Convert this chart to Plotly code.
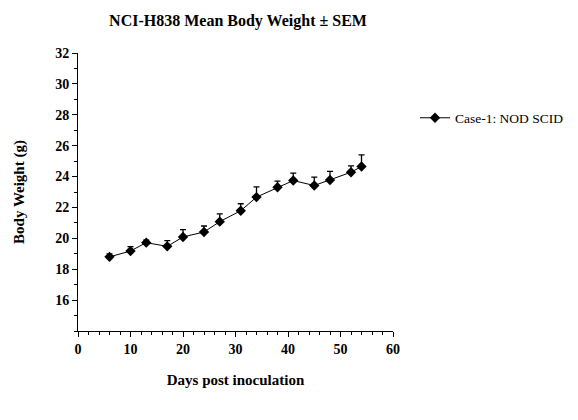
import plotly.graph_objects as go

days = [6, 10, 13, 17, 20, 24, 27, 31, 34, 38, 41, 45, 48, 52, 54]
weights = [18.80, 19.18, 19.72, 19.48, 20.09, 20.41, 21.08, 21.79, 22.67, 23.31, 23.74, 23.42, 23.78, 24.28, 24.65]
sem = [0.20, 0.28, 0.17, 0.37, 0.47, 0.39, 0.51, 0.45, 0.66, 0.39, 0.48, 0.54, 0.56, 0.41, 0.75]
series_name = "Case-1: NOD SCID"
y_ticks = [16, 18, 20, 22, 24, 26, 28, 30, 32]
x_ticks = [0, 10, 20, 30, 40, 50, 60]

FONT = "Liberation Serif, Times New Roman, serif"

fig = go.Figure()
fig.add_trace(go.Scatter(
    x=days, y=weights, name=series_name, mode="lines+markers",
    line=dict(color="black", width=1),
    marker=dict(symbol="diamond", size=8, color="black"),
    error_y=dict(type="data", array=sem, arrayminus=[0] * len(sem), symmetric=False,
                 color="black", thickness=1.3, width=3),
))

fig.update_layout(
    width=578, height=420,
    margin=dict(l=78, r=185, t=53, b=89, autoexpand=False),
    paper_bgcolor="white", plot_bgcolor="white",
    font=dict(family=FONT, color="black"),
    title=dict(text="<b>NCI-H838 Mean Body Weight ± SEM</b>", x=(238 / 578), xanchor="center",
               y=1 - 20 / 420, yanchor="middle", font=dict(size=16, family=FONT, color="black")),
    showlegend=True,
    legend=dict(xref="container", yref="container", x=415 / 578, y=1 - 118 / 420,
                xanchor="left", yanchor="middle",
                font=dict(size=13.5, family=FONT, color="black"), itemwidth=30,
                bgcolor="rgba(0,0,0,0)"),
    xaxis=dict(range=[0, 60], tickvals=x_ticks, showgrid=False, zeroline=False,
               showline=True, linecolor="black", linewidth=1,
               ticks="outside", ticklen=5, tickcolor="black", tickwidth=1,
               tickfont=dict(size=14, family=FONT, color="black", weight="bold"),
               minor=dict(dtick=2, tick0=0, ticks="outside", ticklen=3, tickcolor="black", showgrid=False),
               title=dict(text="<b>Days post inoculation</b>", standoff=18,
                          font=dict(size=15, family=FONT, color="black"))),
    yaxis=dict(range=[14, 32], tickvals=y_ticks, showgrid=False, zeroline=False,
               showline=True, linecolor="black", linewidth=1,
               ticks="outside", ticklen=5, tickcolor="black", tickwidth=1,
               tickfont=dict(size=14, family=FONT, color="black", weight="bold"),
               minor=dict(dtick=1, tick0=0, ticks="outside", ticklen=3, tickcolor="black", showgrid=False),
               title=dict(text="<b>Body Weight (g)</b>", standoff=26,
                          font=dict(size=15, family=FONT, color="black"))),
)

fig.write_html("out.html")
